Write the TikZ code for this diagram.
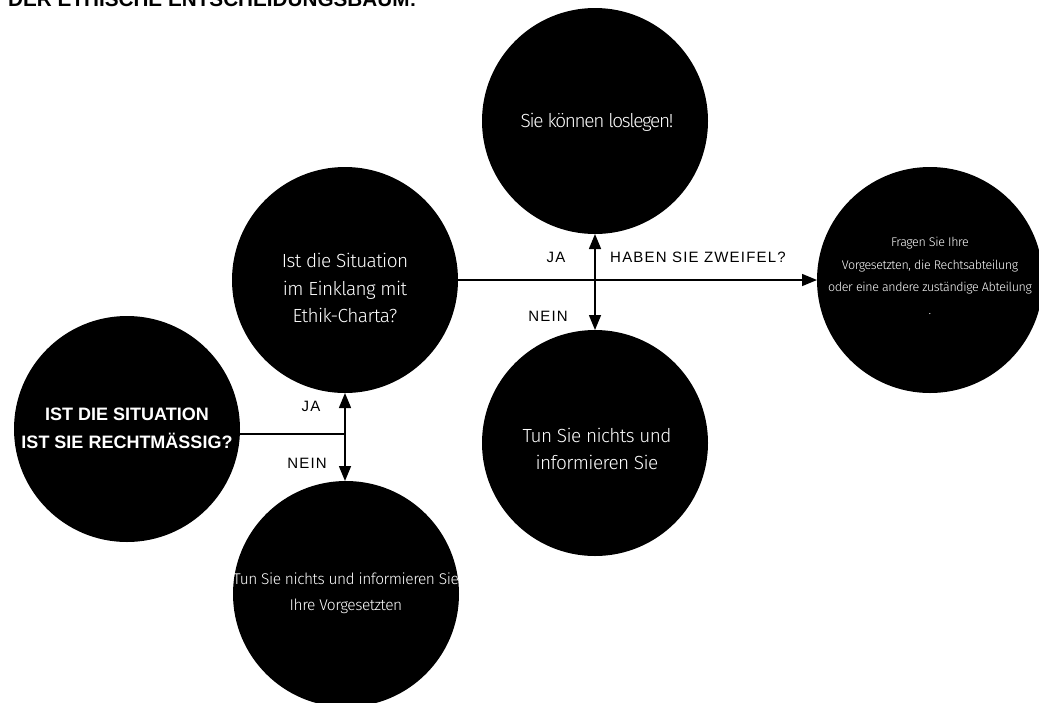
\documentclass[tikz,border=0pt]{standalone}
\usepackage{fontspec}
\setmainfont{Liberation Sans}
\newfontfamily\lightfont{Fira Sans Light}[LetterSpace=-3]
\newfontfamily\tightfont{Fira Sans Light}[LetterSpace=-7]
\newfontfamily\labelfont{Liberation Sans}[LetterSpace=8]
\usetikzlibrary{arrows.meta}
\tikzset{
  bubble/.style={circle, fill=black, minimum size=226pt, inner sep=0pt, outer sep=0pt},
  intext/.style={text=white, align=center, inner sep=0pt},
  bigtxt/.style={intext, font=\lightfont\fontsize{19}{27.5}\selectfont},
  tighttxt/.style={intext, font=\tightfont\fontsize{19}{27.5}\selectfont},
  midtxt/.style={intext, font=\lightfont\fontsize{15.5}{26}\selectfont},
  smalltxt/.style={intext, font=\lightfont\fontsize{12.5}{22.5}\selectfont},
  boldtxt/.style={intext, font=\bfseries\fontsize{18}{28}\selectfont},
  lbl/.style={inner sep=0pt, font=\labelfont\fontsize{15}{18}\selectfont},
  conn/.style={line width=1.5pt, draw=black},
  tip/.style={-{Triangle[length=15pt,width=12pt]}},
  dtip/.style={{Triangle[length=15pt,width=12pt]}-{Triangle[length=15pt,width=12pt]}},
}
\begin{document}
\begin{tikzpicture}[x=1pt, y=-1pt]
\useasboundingbox (0,0) rectangle (1039,702);
\clip (0,0) rectangle (1039,702);
% title
\node[anchor=base west, inner sep=0pt, font=\bfseries\fontsize{20.7}{24}\selectfont] (title) at (8,6) {DER ETHISCHE ENTSCHEIDUNGSBAUM:};
% circles
\node[bubble] (c1) at (595,121) {};
\node[bubble] (c2) at (345,280) {};
\node[bubble] (c3) at (930,280) {};
\node[bubble] (c4) at (595,443) {};
\node[bubble] (c5) at (127,429) {};
\node[bubble] (c6) at (346,594) {};
% circle texts
\node[tighttxt] (t1) at (597,122) {Sie können loslegen!};
\node[bigtxt] (t2) at (345,288) {Ist die Situation\\im Einklang mit\\Ethik-Charta?};
\node[smalltxt] (t3) at (930,276) {Fragen Sie Ihre\\Vorgesetzten, die Rechtsabteilung\\oder eine andere zuständige Abteilung\\.};
\node[bigtxt] (t4) at (597,449) {Tun Sie nichts und\\informieren Sie};
\node[boldtxt] (t5) at (127,428) {IST DIE SITUATION\\IST SIE RECHTMÄSSIG?};
\node[midtxt] (t6) at (346,593) {Tun Sie nichts und informieren Sie\\Ihre Vorgesetzten};
% connectors
\draw[conn, tip] (c2.east) -- (c3.west);
\draw[conn, dtip] (c1.south) -- (c4.north);
\draw[conn, dtip] (c2.south) -- (c2.south |- c6.north);
\coordinate (j1) at (345,434);
\draw[conn] (j1 -| c5.east) -- (j1);
% labels
\node[lbl] (ja1) at (556,257) {JA};
\node[lbl] (zw) at (698,257) {HABEN SIE ZWEIFEL?};
\node[lbl] (nein1) at (548,316) {NEIN};
\node[lbl] (ja2) at (311,406) {JA};
\node[lbl] (nein2) at (307,463) {NEIN};
\end{tikzpicture}
\end{document}
